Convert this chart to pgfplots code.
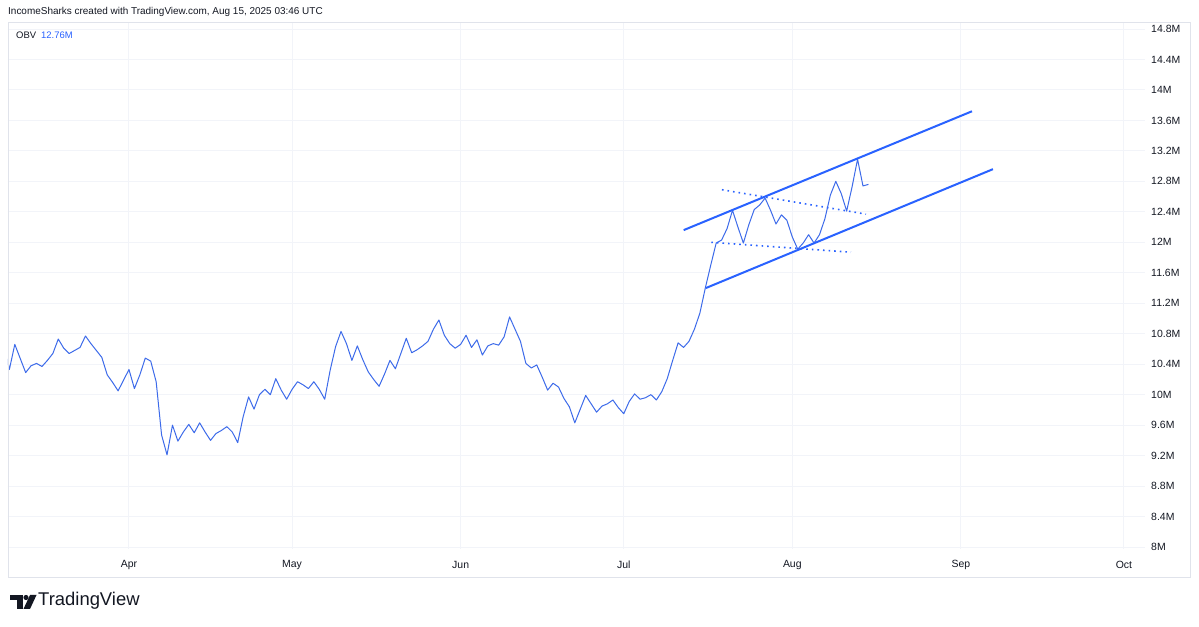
\documentclass[border=0pt]{standalone}
\usepackage{pgfplots}
\pgfplotsset{compat=1.18}
\usepackage{fontspec}
\setmainfont{Liberation Sans}
\definecolor{tvblue}{HTML}{2962FF}
\definecolor{obvblue}{HTML}{3D6BEA}
\definecolor{gridc}{HTML}{F2F4F9}
\definecolor{framec}{HTML}{E0E3EB}
\definecolor{txt}{HTML}{131722}

\pgfplotstableread{
d v
-23 10.69
-22 10.33
-21 10.66
-19 10.29
-18 10.38
-17 10.41
-16 10.37
-15 10.45
-14 10.54
-13 10.73
-12 10.61
-11 10.54
-10 10.58
-9 10.62
-8 10.77
-7 10.67
-6 10.58
-5 10.49
-4 10.26
-3 10.16
-2 10.05
-1 10.19
0 10.33
1 10.08
2 10.26
3 10.48
4 10.44
5 10.17
6 9.47
7 9.21
8 9.60
9 9.39
10 9.51
11 9.61
12 9.50
13 9.63
14 9.51
15 9.40
16 9.49
17 9.53
18 9.58
19 9.51
20 9.37
21 9.71
22 9.97
23 9.81
24 10.00
25 10.07
26 10.00
27 10.21
28 10.06
29 9.94
30 10.07
31 10.17
32 10.13
33 10.08
34 10.17
35 10.07
36 9.94
37 10.32
38 10.63
39 10.83
40 10.67
41 10.45
42 10.64
43 10.46
44 10.30
45 10.20
46 10.11
47 10.27
48 10.45
49 10.34
50 10.54
51 10.74
52 10.55
53 10.59
54 10.64
55 10.70
56 10.86
57 10.98
58 10.78
59 10.67
60 10.61
61 10.66
62 10.78
63 10.62
64 10.72
65 10.52
66 10.64
67 10.67
68 10.65
69 10.76
70 11.02
71 10.86
72 10.70
73 10.41
74 10.35
75 10.39
76 10.23
77 10.06
78 10.15
79 10.10
80 9.95
81 9.84
82 9.63
83 9.81
84 9.99
85 9.88
86 9.77
87 9.85
88 9.88
89 9.93
90 9.83
91 9.75
92 9.91
93 10.01
94 9.94
95 9.96
96 10.00
97 9.93
98 10.04
99 10.21
100 10.45
101 10.68
102 10.62
103 10.70
104 10.86
105 11.07
106 11.40
107 11.70
108 11.99
109 12.03
110 12.18
111 12.42
112 12.20
113 11.99
114 12.23
115 12.43
116 12.49
117 12.58
118 12.42
119 12.24
120 12.36
121 12.29
122 12.07
123 11.91
124 11.99
125 12.10
126 11.99
127 12.10
128 12.31
129 12.62
130 12.80
131 12.64
132 12.41
133 12.73
134 13.09
135 12.74
136 12.76
}\obvdata

\begin{document}
\begin{tikzpicture}
\path[use as bounding box, fill=white] (0bp,0bp) rectangle (1199bp,627bp);
\begin{axis}[
  at={(8bp,78bp)}, anchor=south west,
  width=1137bp, height=527bp, scale only axis,
  xmin=-22.25, xmax=186.87, ymin=7.974, ymax=14.892,
  axis line style={draw=none},
  major tick length=0pt,
  xtick={0,30,61,91,122,153,183},
  xticklabels={Apr,May,Jun,Jul,Aug,Sep,Oct},
  ytick={8,8.4,8.8,9.2,9.6,10,10.4,10.8,11.2,11.6,12,12.4,12.8,13.2,13.6,14,14.4,14.8},
  yticklabels={8M,8.4M,8.8M,9.2M,9.6M,10M,10.4M,10.8M,11.2M,11.6M,12M,12.4M,12.8M,13.2M,13.6M,14M,14.4M,14.8M},
  grid=major, grid style={gridc, line width=1bp},
  xticklabel style={anchor=center, yshift=-16bp, font=\fontsize{10.5}{12}\selectfont, text=txt},
  yticklabel pos=right,
  yticklabel style={anchor=west, xshift=6bp, inner sep=0pt, font=\fontsize{10.5}{12}\selectfont, text=txt},
]
\addplot[obvblue, line width=1bp, line join=round] table[x=d, y=v] {\obvdata};
% channel lines
\addplot[tvblue, line width=2bp] coordinates {(102.02,12.16) (155.05,13.72)};
\addplot[tvblue, line width=2bp] coordinates {(106.12,11.40) (158.9,12.96)};
% dotted lines
\addplot[tvblue, line width=1.6bp, dash pattern=on 1.6bp off 4bp] coordinates {(109.06,12.69) (135.55,12.37)};
\addplot[tvblue, line width=1.6bp, dash pattern=on 1.6bp off 4bp] coordinates {(107.1,12.00) (132.79,11.87)};
\end{axis}
% frame
\draw[framec, line width=0.8bp] (8bp,50bp) rectangle (1190.5bp,605bp);
% title
\node[anchor=west, inner sep=0pt, font=\fontsize{10}{12}\selectfont, text=txt] at (8bp,615bp)
  {IncomeSharks created with TradingView.com, Aug 15, 2025 03:46 UTC};
\node[anchor=west, inner sep=0pt, font=\fontsize{9.5}{11}\selectfont, text=txt] at (16bp,592bp)
  {OBV\hspace{5bp}\textcolor{tvblue}{12.76M}};
% logo
\fill[txt] (10bp,32bp) rectangle (22.5bp,26.5bp);
\fill[txt] (16.5bp,32bp) rectangle (22.5bp,18bp);
\fill[txt] (26bp,29.5bp) circle (2.6bp);
\fill[txt] (30bp,32bp) -- (36.5bp,32bp) -- (30bp,18bp) -- (23.5bp,18bp) -- cycle;
\node[anchor=west, inner sep=0pt, font=\fontsize{18.5}{20}\selectfont, text=txt] at (38bp,26bp) {TradingView};
\end{tikzpicture}
\end{document}
